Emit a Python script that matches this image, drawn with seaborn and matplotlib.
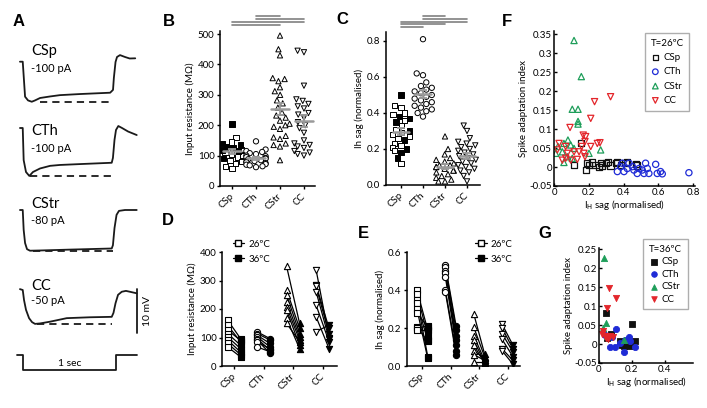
import numpy as np
import pandas as pd
import matplotlib
matplotlib.use("Agg")
import matplotlib.pyplot as plt
import seaborn as sns
from matplotlib.lines import Line2D

W, H = 707, 408

cells = ["CSp", "CTh", "CStr", "CC"]
cell_markers = {"CSp": "s", "CTh": "o", "CStr": "^", "CC": "v"}
cell_colors = {"CSp": "#111111", "CTh": "#1f2bd6", "CStr": "#1e9e5a", "CC": "#e3262b"}

# ---- A: example traces (time in s, mV relative to rest)
trace_steps = ["-100 pA", "-100 pA", "-80 pA", "-50 pA"]
csp_t = [-0.03, 0, 0.025, 0.057, 0.097, 0.132, 0.186, 0.294, 0.40, 0.616, 0.94, 0.971, 0.98, 0.998, 1.014, 1.046, 1.10, 1.15, 1.21]
csp_v = [0, 0, -7.95, -8.8, -9.1, -8.8, -8.25, -7.9, -7.6, -7.35, -7.05, -6.4, -3.7, -0.07, 1.07, 1.5, 1.07, 0.73, 0.77]
cth_t = [-0.03, 0, 0.01, 0.035, 0.071, 0.11, 0.186, 0.294, 0.40, 0.616, 0.957, 0.97, 0.987, 1.003, 1.028, 1.068, 1.133, 1.226]
cth_v = [0, 0, -7.3, -10.0, -10.9, -10.0, -9.2, -8.6, -8.4, -8.2, -7.9, -6.8, -2.7, -0.45, 0.45, 0, -0.8, -1.6]
cstr_t = [-0.03, 0, 0.01, 0.025, 0.046, 0.078, 0.186, 0.51, 0.957, 0.97, 0.987, 1.009, 1.035, 1.10, 1.226]
cstr_v = [0, 0, -4.5, -7.5, -8.9, -9.25, -9.2, -9.0, -8.75, -8.0, -4.1, -1.1, -0.2, 0, 0]
cc_t = [-0.03, 0, 0.014, 0.035, 0.068, 0.10, 0.132, 0.186, 0.294, 0.473, 0.72, 0.957, 0.976, 0.998, 1.025, 1.065, 1.11, 1.226]
cc_v = [0.2, 0, -2.3, -4.5, -6.4, -7.3, -7.7, -7.6, -7.2, -6.4, -6.2, -6.1, -5.2, -3.0, -1.1, -0.4, -0.2, -0.75]
peak_mv = [-9.1, -10.9, -9.25, -7.7]
dash_t = [(0.19, 0.96), (0.08, 0.96), (0.11, 0.97), (0.15, 0.96)]
cmd_t = [-0.065, 0, 0, 1.0, 1.0, 1.226]
cmd_i = [0, 0, -1, -1, 0, 0]

# ---- B: input resistance (MOhm)
rin_csp_open = [160, 145, 120, 110, 105, 100, 95, 85, 80, 75, 65, 58, 132]
rin_csp_filled = [204, 140, 135, 130, 125, 118, 115, 90]
rin_cth = [147, 120, 115, 112, 108, 105, 100, 98, 95, 92, 90, 88, 85, 82, 80, 78, 75, 72, 70, 68, 65, 62]
rin_cstr = [495, 450, 430, 352, 345, 355, 325, 312, 300, 282, 272, 258, 242, 232, 225, 215, 205, 200,
            195, 188, 165, 160, 155, 140, 135, 130, 85]
rin_cc = [445, 440, 330, 285, 280, 270, 262, 255, 240, 235, 225, 210, 200, 190, 175, 150, 140, 135,
          130, 125, 115, 110, 105, 100]

# ---- C: Ih sag (normalised)
sag_csp_open = [0.44, 0.43, 0.40, 0.39, 0.36, 0.33, 0.31, 0.29, 0.28, 0.27, 0.26, 0.23, 0.22, 0.21, 0.19, 0.12]
sag_csp_filled = [0.50, 0.38, 0.37, 0.35, 0.30, 0.25, 0.20, 0.18, 0.15]
sag_cth = [0.81, 0.62, 0.61, 0.57, 0.55, 0.54, 0.53, 0.52, 0.51, 0.50, 0.49, 0.48, 0.47, 0.46, 0.45,
           0.44, 0.43, 0.42, 0.41, 0.40, 0.38]
sag_cstr = [0.27, 0.20, 0.17, 0.15, 0.14, 0.13, 0.12, 0.11, 0.11, 0.10, 0.10, 0.09, 0.08, 0.08, 0.07,
            0.06, 0.05, 0.04, 0.03, 0.02, 0.02]
sag_cc = [0.33, 0.30, 0.26, 0.24, 0.23, 0.22, 0.21, 0.20, 0.19, 0.18, 0.17, 0.16, 0.15, 0.14, 0.13,
          0.12, 0.11, 0.10, 0.09, 0.08, 0.07, 0.05, 0.02]

# ---- D: input resistance 26 vs 36 C (paired)
rin26 = {"CSp": [161, 143, 126, 114, 102, 91, 79, 67],
         "CTh": [120, 114, 108, 102, 96, 91, 85, 67],
         "CStr": [350, 267, 250, 226, 208, 196, 167, 150],
         "CC": [338, 285, 279, 261, 214, 173, 120]}
rin36 = {"CSp": [96, 85, 90, 73, 61, 49, 40, 32],
         "CTh": [96, 91, 79, 67, 55, 44, 60, 50],
         "CStr": [150, 132, 114, 102, 91, 73, 61, 85],
         "CC": [100, 132, 114, 96, 85, 61, 144]}

# ---- E: Ih sag 26 vs 36 C (paired)
sag26 = {"CSp": [0.40, 0.38, 0.35, 0.33, 0.30, 0.28, 0.205, 0.20, 0.19],
         "CTh": [0.53, 0.52, 0.50, 0.49, 0.47, 0.40, 0.39],
         "CStr": [0.275, 0.205, 0.16, 0.135, 0.11, 0.08, 0.06, 0.02],
         "CC": [0.22, 0.20, 0.17, 0.14, 0.09, 0.08]}
sag36 = {"CSp": [0.19, 0.16, 0.05, 0.135, 0.04, 0.205, 0.13, 0.21, 0.19],
         "CTh": [0.21, 0.19, 0.16, 0.135, 0.11, 0.08, 0.06],
         "CStr": [0.065, 0.05, 0.03, 0.02, 0.015, 0.04, 0.03, 0.02],
         "CC": [0.11, 0.09, 0.075, 0.05, 0.03, 0.01]}

# ---- F: spike adaptation index vs Ih sag at 26 C
f_x = {"CSp": [0.115, 0.153, 0.182, 0.191, 0.201, 0.220, 0.239, 0.258, 0.268, 0.278, 0.297, 0.310, 0.325,
               0.354, 0.364, 0.383, 0.411, 0.421, 0.469, 0.478],
       "CTh": [0.364, 0.383, 0.392, 0.402, 0.421, 0.431, 0.450, 0.459, 0.478, 0.488, 0.507, 0.517, 0.536,
               0.545, 0.526, 0.584, 0.593, 0.612, 0.622, 0.775],
       "CStr": [0.115, 0.157, 0.105, 0.138, 0.138, 0.138, 0.010, 0.023, 0.057, 0.080, 0.096, 0.115, 0.057,
                0.105, 0.201, 0.268, 0.048, 0.077],
       "CC": [0.325, 0.233, 0.211, 0.092, 0.029, 0.067, 0.077, 0.067, 0.096, 0.134, 0.144, 0.159, 0.168,
              0.182, 0.178, 0.172, 0.178, 0.211, 0.249, 0.264, 0.019, 0.115, 0.048]}
f_y = {"CSp": [0.005, 0.064, -0.008, 0.010, 0.005, 0.012, 0.005, 0.001, 0.011, 0.004, 0.010, 0.014, 0.004,
               0.010, 0.014, 0.005, 0.011, 0.014, 0.008, 0.004],
       "CTh": [-0.012, 0.001, 0.010, -0.012, -0.004, 0.010, 0.001, -0.008, -0.017, -0.004, -0.008, -0.017,
               -0.004, -0.017, 0.010, 0.007, -0.017, -0.012, -0.018, -0.015],
       "CStr": [0.333, 0.238, 0.152, 0.152, 0.120, 0.113, 0.036, 0.054, 0.062, 0.071, 0.058, 0.049, 0.012,
                0.023, 0.036, 0.045, 0.040, 0.027],
       "CC": [0.185, 0.172, 0.128, 0.104, 0.062, 0.054, 0.036, 0.023, 0.018, 0.020, 0.040, 0.054, 0.084,
              0.080, 0.067, 0.036, 0.027, 0.054, 0.062, 0.064, 0.045, 0.040, 0.018]}

# ---- G: same at 36 C
g_x = {"CSp": [0.043, 0.071, 0.200, 0.129, 0.149, 0.169, 0.190, 0.220, 0.139, 0.047],
       "CTh": [0.104, 0.180, 0.067, 0.098, 0.149, 0.220, 0.129, 0.190, 0.159, 0.037, 0.078],
       "CStr": [0.033, 0.043, 0.027, 0.153, 0.047],
       "CC": [0.063, 0.104, 0.047, 0.027, 0.037, 0.051, 0.067, 0.084, 0.043, 0.016, 0.057]}
g_y = {"CSp": [0.083, 0.027, 0.054, 0.007, -0.006, 0.007, -0.006, 0.007, -0.002, 0.016],
       "CTh": [0.039, 0.018, -0.008, -0.008, -0.022, -0.008, 0.003, 0.007, 0.011, 0.025, 0.018],
       "CStr": [0.226, 0.055, 0.042, 0.011, 0.022],
       "CC": [0.147, 0.121, 0.094, 0.033, 0.022, 0.022, 0.020, 0.018, 0.016, 0.027, 0.013]}

sns.set_theme(style="ticks")
plt.rcParams["font.family"] = ["Lato", "DejaVu Sans"]
plt.rcParams.update({
    "axes.linewidth": 1.1, "axes.edgecolor": "black", "axes.labelcolor": "black",
    "text.color": "black", "xtick.color": "black", "ytick.color": "black",
    "xtick.major.width": 1.0, "ytick.major.width": 1.0,
    "xtick.major.size": 2.5, "ytick.major.size": 2.5,
    "xtick.major.pad": 1.5, "ytick.major.pad": 1.5,
    "font.size": 7, "axes.labelsize": 7, "xtick.labelsize": 7, "ytick.labelsize": 7,
})

fig = plt.figure(figsize=(W / 100, H / 100), dpi=100)


def rect(l, t, r, b):
    return [l / W, 1 - b / H, (r - l) / W, (b - t) / H]


def ftext(x, y, s, **kw):
    kw.setdefault("va", "center")
    fig.text(x / W, 1 - y / H, s, **kw)


# ---------------- A
trace_list = [(csp_t, csp_v), (cth_t, cth_v), (cstr_t, cstr_v), (cc_t, cc_v)]
rest_px = [61.7, 128, 210, 290]
name_px = [51, 131, 204, 286]
step_px = [69, 148, 221, 301]
for k, (t, v) in enumerate(trace_list):
    ax = fig.add_axes(rect(10, rest_px[k] - 15, 145, rest_px[k] + 50))
    sns.lineplot(x=t, y=v, sort=False, estimator=None, color="#1a1a1a", lw=1.3, ax=ax)
    ax.hlines(peak_mv[k], dash_t[k][0], dash_t[k][1], colors="#1a1a1a", lw=1.3, linestyles=(0, (4, 2.8)))
    ax.set_xlim(-0.137, 1.315)
    ax.set_ylim(-50 / 4.4, 15 / 4.4)
    ax.axis("off")
    ftext(31, name_px[k], cells[k], fontsize=10.5)
    ftext(31, step_px[k], trace_steps[k], fontsize=8)
    if k == 3:
        ax.plot([1.229, 1.229], [0.2, -9.8], color="#1a1a1a", lw=1.3)
ftext(148, 311, "10 mV", rotation=90, fontsize=7.5, ha="center")

ax = fig.add_axes(rect(10, 345, 145, 380))
sns.lineplot(x=cmd_t, y=cmd_i, sort=False, estimator=None, color="#1a1a1a", lw=1.3, ax=ax)
ax.set_xlim(-0.137, 1.315)
ax.set_ylim(-1.667, 0.667)
ax.axis("off")
ax.text(0.5, -0.6, "1 sec", ha="center", va="center", fontsize=7.5)


# ---------------- B, C
def swarm_panel(ax, open_csp, filled_csp, others, ylim, yticks, ylabel, sig, levels):
    rows = [("CSp", v, "open") for v in open_csp] + [("CSp", v, "filled") for v in filled_csp]
    for c, vals in zip(cells[1:], others):
        rows += [(c, v, "open") for v in vals]
    df = pd.DataFrame(rows, columns=["cell", "val", "fill"])
    for c in cells:
        sns.swarmplot(data=df[df.cell == c], x="cell", y="val", order=cells, hue="fill",
                      hue_order=["open", "filled"], palette={"open": "white", "filled": "black"},
                      marker=cell_markers[c], size=3.8, edgecolor="black", linewidth=0.7,
                      legend=False, ax=ax)
    for i, c in enumerate(cells):
        vals = df.loc[df.cell == c, "val"].to_numpy()
        m = vals.mean()
        se = vals.std(ddof=1) / np.sqrt(len(vals))
        ax.errorbar(i, m, yerr=se, fmt="none", ecolor="#9a9a9a", elinewidth=1.3,
                    capsize=3.2, capthick=1.3, zorder=10)
        ax.plot([i - 0.37, i + 0.37], [m, m], color="#9a9a9a", lw=1.8, zorder=10)
    for (a, b), y in zip(sig, levels):
        ax.plot([a, b], [y, y], color="#808080", lw=1.2, clip_on=False)
    ax.set_ylim(*ylim)
    ax.set_yticks(yticks)
    ax.set_xticks(range(4))
    ax.set_xticklabels(cells, rotation=45, ha="right", va="center", rotation_mode="anchor")
    ax.tick_params(axis="x", pad=4)
    ax.set_xlabel("")
    ax.set_ylabel(ylabel, labelpad=2)
    sns.despine(ax=ax)


axB = fig.add_axes(rect(220, 31, 315, 186))
swarm_panel(axB, rin_csp_open, rin_csp_filled, [rin_cth, rin_cstr, rin_cc], (0, 510),
            [0, 100, 200, 300, 400, 500], "Input resistance (MΩ)",
            [(1, 2), (1, 3), (0, 3), (0, 2)], [560, 549, 540, 531])
axB.set_xlim(-0.5, 3.46)

axC = fig.add_axes(rect(386, 32, 480, 185))
swarm_panel(axC, sag_csp_open, sag_csp_filled, [sag_cth, sag_cstr, sag_cc], (0, 0.85),
            [0, 0.2, 0.4, 0.6, 0.8], "Ih sag (normalised)",
            [(1, 2), (1, 3), (0, 3), (0, 2), (0, 1)], [0.939, 0.922, 0.907, 0.893, 0.879])
axC.set_yticklabels(["0.0", "0.2", "0.4", "0.6", "0.8"])
axC.set_xlim(-0.68, 3.59)


# ---------------- D, E
def paired_panel(ax, d26, d36, offset, ylim, yticks, ylabel, leg_anchor):
    rows = []
    for i, c in enumerate(cells):
        for j, (a, b) in enumerate(zip(d26[c], d36[c])):
            rows.append((c, f"{c}{j}", "26", i - offset, a))
            rows.append((c, f"{c}{j}", "36", i + offset, b))
    df = pd.DataFrame(rows, columns=["cell", "pair", "temp", "x", "val"])
    sns.lineplot(data=df, x="x", y="val", units="pair", estimator=None, color="black",
                 lw=0.9, ax=ax, legend=False)
    for c in cells:
        for temp, fc in [("26", "white"), ("36", "black")]:
            sub = df[(df.cell == c) & (df.temp == temp)]
            sns.scatterplot(data=sub, x="x", y="val", marker=cell_markers[c], s=20, color=fc,
                            edgecolor="black", linewidth=0.8, ax=ax, zorder=3, legend=False)
    ax.set_ylim(*ylim)
    ax.set_yticks(yticks)
    ax.set_xticks(range(4))
    ax.set_xticklabels(cells, rotation=45, ha="right", va="center", rotation_mode="anchor")
    ax.tick_params(axis="x", pad=4)
    ax.set_xlabel("")
    ax.set_ylabel(ylabel, labelpad=2)
    handles = [Line2D([], [], color="black", lw=0.9, marker="s", ms=4, mfc="white", mec="black"),
               Line2D([], [], color="black", lw=0.9, marker="s", ms=4, mfc="black", mec="black")]
    ax.legend(handles, ["26ºC", "36ºC"], loc="upper left", bbox_to_anchor=leg_anchor, frameon=False,
              handlelength=1.2, handletextpad=0.4, labelspacing=0.6, borderpad=0, fontsize=7)
    sns.despine(ax=ax)


axD = fig.add_axes(rect(222, 252, 337, 366))
paired_panel(axD, rin26, rin36, 0.22, (0, 400), [0, 100, 200, 300, 400],
             "Input resistance (MΩ)", (0.05, 1.15))
axD.set_xlim(-0.41, 3.49)

axE = fig.add_axes(rect(407, 252, 520, 366))
paired_panel(axE, sag26, sag36, 0.19, (0, 0.6), [0, 0.2, 0.4, 0.6],
             "Ih sag (normalised)", (0.56, 1.15))
axE.set_yticklabels(["0.0", "0.2", "0.4", "0.6"])
axE.set_xlim(-0.54, 3.44)


# ---------------- F, G
def scatter_panel(ax, xs, ys, filled, xlim, ylim, xticks, yticks, title, leg_anchor, spacing):
    for c in cells:
        col = cell_colors[c]
        if filled:
            sns.scatterplot(x=xs[c], y=ys[c], marker=cell_markers[c], s=20, color=col,
                            edgecolor=col, linewidth=0.6, ax=ax, label=c)
        else:
            sns.scatterplot(x=xs[c], y=ys[c], marker=cell_markers[c], s=20, color="none",
                            edgecolor=col, linewidth=0.9, ax=ax, label=c)
    ax.set_xlim(*xlim)
    ax.set_ylim(*ylim)
    ax.set_xticks(xticks)
    ax.set_yticks(yticks)
    ax.tick_params(direction="in", length=2.5)
    ax.set_xlabel(r"I$_\mathrm{H}$ sag (normalised)", labelpad=1)
    ax.set_ylabel("Spike adaptation index", labelpad=1)
    leg = ax.legend(title=title, loc="upper right", bbox_to_anchor=leg_anchor, frameon=True,
                    fancybox=False, edgecolor="#9a9a9a", fontsize=7, title_fontsize=7,
                    handletextpad=0.3, labelspacing=spacing, borderpad=0.6, handlelength=1.0,
                    markerscale=0.9)
    leg.get_frame().set_linewidth(1.0)
    leg._legend_box.align = "left"
    sns.despine(ax=ax)


axF = fig.add_axes(rect(554, 31, 695, 186))
scatter_panel(axF, f_x, f_y, False, (0, 0.81), (-0.05, 0.358), [0, 0.2, 0.4, 0.6, 0.8],
              [-0.05, 0, 0.05, 0.1, 0.15, 0.2, 0.25, 0.3, 0.35], "T=26ºC", (0.995, 1.02), 0.55)
axF.set_xticklabels(["0", "0.2", "0.4", "0.6", "0.8"])
axF.set_yticklabels(["-0.05", "0", "0.05", "0.1", "0.15", "0.2", "0.25", "0.3", "0.35"])

axG = fig.add_axes(rect(599, 248, 693, 363))
scatter_panel(axG, g_x, g_y, True, (0, 0.57), (-0.05, 0.253), [0, 0.2, 0.4],
              [-0.05, 0, 0.05, 0.1, 0.15, 0.2, 0.25], "T=36ºC", (1.0, 1.12), 0.35)
axG.set_xticklabels(["0", "0.2", "0.4"])
axG.set_yticklabels(["-0.05", "0", "0.05", "0.1", "0.15", "0.2", "0.25"])

# panel letters
for letter, x, y in [("A", 19, 22), ("B", 169, 21), ("C", 342, 20), ("F", 507, 22),
                     ("D", 168, 221), ("E", 363, 233), ("G", 545, 233)]:
    ftext(x, y, letter, fontsize=12, fontweight="bold", ha="center", family="Liberation Sans")

fig.savefig("out.png", dpi=100)
